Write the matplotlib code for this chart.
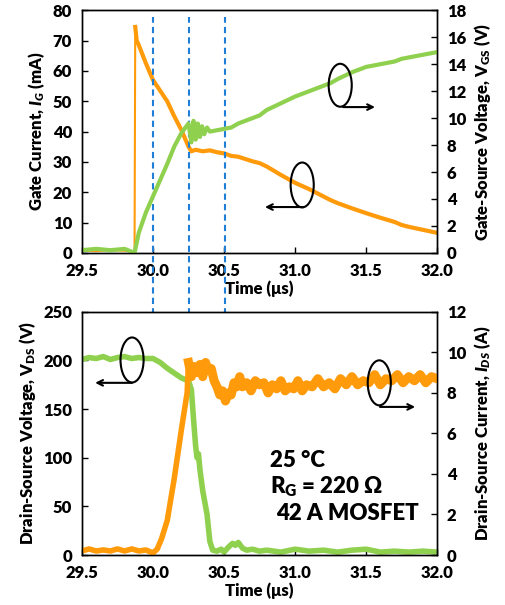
import matplotlib
matplotlib.use("Agg")
import matplotlib.pyplot as plt
from matplotlib.patches import Ellipse

plt.rcParams['font.family'] = ['Lato', 'DejaVu Sans']
plt.rcParams['font.weight'] = 'heavy'
plt.rcParams['axes.labelweight'] = 'heavy'
plt.rcParams['mathtext.fontset'] = 'custom'
plt.rcParams['mathtext.rm'] = 'Lato:heavy'
plt.rcParams['mathtext.it'] = 'Lato:heavy:italic'
plt.rcParams['mathtext.bf'] = 'Lato:heavy'

ORANGE = '#FF9A0A'
GREEN = '#8FD14F'
BLUE = '#1F7FD6'

# gate current (mA), turn-on transient
t_ig = [29.50, 29.60, 29.70, 29.80, 29.86, 29.87, 29.875, 29.885, 29.90, 29.95,
        30.00, 30.05, 30.10, 30.15, 30.20, 30.25, 30.27, 30.30, 30.35, 30.40,
        30.45, 30.50, 30.55, 30.60, 30.70, 30.75, 30.80, 30.90, 31.00, 31.10,
        31.20, 31.25, 31.30, 31.40, 31.50, 31.60, 31.70, 31.75, 31.80, 31.90,
        32.00]
ig = [0.8, 0.6, 0.9, 0.7, 0.5, 0.5, 74.5, 70.0, 68.5, 62.5,
      57.0, 53.5, 50.0, 45.0, 40.5, 35.0, 33.5, 34.0, 33.5, 33.8,
      33.2, 32.8, 32.0, 31.7, 30.2, 29.6, 28.5, 25.7, 23.1, 21.0,
      18.6, 17.4, 16.4, 14.7, 13.1, 11.6, 10.2, 9.2, 8.6, 7.6,
      6.6]

# gate-source voltage (V)
t_vgs = [29.50, 29.60, 29.70, 29.80, 29.87, 29.90, 29.95, 30.00, 30.05, 30.10,
         30.15, 30.20, 30.25, 30.27, 30.285, 30.30, 30.315, 30.33, 30.345, 30.36,
         30.38, 30.40, 30.45, 30.50, 30.55, 30.60, 30.70, 30.75, 30.80, 30.90,
         31.00, 31.10, 31.20, 31.25, 31.30, 31.40, 31.50, 31.60, 31.70, 31.75,
         31.80, 31.90, 32.00]
vgs = [0.2, 0.3, 0.2, 0.3, 0.0, 1.5, 3.0, 4.2, 5.4, 6.6,
       7.9, 8.9, 9.6, 8.2, 9.8, 8.4, 9.6, 8.6, 9.4, 8.8,
       9.3, 9.0, 9.1, 9.2, 9.3, 9.6, 10.0, 10.2, 10.6, 11.1,
       11.6, 12.0, 12.4, 12.6, 12.9, 13.4, 13.8, 14.0, 14.2, 14.4,
       14.5, 14.7, 14.9]

# drain-source voltage (V)
t_vds = [29.50, 29.55, 29.60, 29.65, 29.70, 29.75, 29.80, 29.85, 29.90, 29.95,
         30.00, 30.05, 30.10, 30.15, 30.20, 30.25, 30.27, 30.285, 30.30, 30.31,
         30.32, 30.33, 30.35, 30.38, 30.40, 30.42, 30.45, 30.48, 30.50, 30.53,
         30.56, 30.58, 30.60, 30.63, 30.66, 30.70, 30.75, 30.80, 30.90, 31.00,
         31.10, 31.20, 31.30, 31.40, 31.50, 31.60, 31.70, 31.80, 31.90, 32.00]
vds = [201, 203, 202, 204, 201, 203, 204, 202, 203, 202,
       202, 198, 192, 187, 182, 179, 170, 140, 112, 100,
       104, 88, 66, 42, 14, 5, 4, 6, 3, 8,
       12, 10, 13, 7, 5, 6, 4, 5, 3, 6,
       4, 5, 3, 5, 6, 3, 4, 3, 4, 3]

# drain-source current (A)
t_ids = [29.50, 29.55, 29.60, 29.65, 29.70, 29.75, 29.80, 29.85, 29.90, 29.95,
         30.00, 30.03, 30.06, 30.10, 30.15, 30.20, 30.24, 30.25, 30.27, 30.29,
         30.31, 30.33, 30.35, 30.37, 30.39, 30.41, 30.43, 30.45, 30.47, 30.49,
         30.51, 30.53, 30.55, 30.57, 30.59, 30.61, 30.63, 30.66, 30.69, 30.72,
         30.75, 30.78, 30.81, 30.84, 30.87, 30.90, 30.93, 30.96, 30.99, 31.02,
         31.05, 31.08, 31.12, 31.16, 31.20, 31.24, 31.28, 31.32, 31.36, 31.40,
         31.44, 31.48, 31.52, 31.56, 31.60, 31.64, 31.68, 31.72, 31.76, 31.80,
         31.84, 31.88, 31.92, 31.96, 32.00]
ids = [0.2, 0.3, 0.2, 0.25, 0.2, 0.3, 0.2, 0.3, 0.2, 0.25,
       0.1, 0.3, 0.8, 1.7, 3.8, 6.2, 8.0, 9.5, 8.8, 9.3,
       9.0, 9.4, 8.8, 9.5, 9.1, 9.2, 8.6, 8.3, 7.9, 8.1,
       7.6, 8.0, 7.9, 8.5, 8.3, 8.8, 8.3, 8.5, 8.1, 8.6,
       8.4, 8.5, 8.0, 8.4, 8.2, 8.6, 8.1, 8.3, 8.2, 8.6,
       8.1, 8.4, 8.3, 8.7, 8.3, 8.5, 8.2, 8.7, 8.4, 8.8,
       8.4, 8.6, 8.5, 8.9, 8.4, 8.7, 8.6, 8.9, 8.5, 8.8,
       8.6, 8.9, 8.5, 8.8, 8.7]

# switching instants marked across both panels
markers = [30.0, 30.25, 30.51]

x_ticks = [29.5, 30.0, 30.5, 31.0, 31.5, 32.0]

LABEL_SIZE = 12
TICK_SIZE = 12

fig = plt.figure(figsize=(5.06, 6.05), dpi=100)
ax1 = fig.add_axes([0.162, 0.582, 0.702, 0.401])
ax2 = fig.add_axes([0.162, 0.0826, 0.702, 0.402])


def style(ax, ylim, yticks):
    ax.set_xlim(29.5, 32.0)
    ax.set_ylim(*ylim)
    ax.set_yticks(yticks)
    ax.set_xticks(x_ticks)
    ax.set_xticklabels(['%.1f' % v for v in x_ticks])
    ax.tick_params(direction='in', length=4, width=1.0, labelsize=TICK_SIZE, pad=7)
    for s in ax.spines.values():
        s.set_linewidth(1.0)


# top panel: gate current and gate-source voltage
# thin trace up to the switching edge, thicker noisy trace after it
ax1.plot(t_ig[:7], ig[:7], color=ORANGE, lw=1.5)
ax1.plot(t_ig[6:], ig[6:], color=ORANGE, lw=3.0)
style(ax1, (0, 80), range(0, 81, 10))
ax1.set_ylabel('Gate Current, $\\mathit{I}_\\mathit{G}$ (mA)', fontsize=LABEL_SIZE, labelpad=4)
ax1.set_xlabel('Time (\u03bcs)', fontsize=LABEL_SIZE, labelpad=1)

ax1r = ax1.twinx()
ax1r.plot(t_vgs, vgs, color=GREEN, lw=3.0)
style(ax1r, (0, 18), range(0, 19, 2))
ax1r.set_ylabel('Gate-Source Voltage, V$_\\mathrm{GS}$ (V)', fontsize=LABEL_SIZE, labelpad=4)

# bottom panel: drain-source voltage and current
ax2.plot(t_vds, vds, color=GREEN, lw=4.0)
style(ax2, (0, 250), range(0, 251, 50))
ax2.set_ylabel('Drain-Source Voltage, V$_\\mathrm{DS}$ (V)', fontsize=LABEL_SIZE, labelpad=4)
ax2.set_xlabel('Time (\u03bcs)', fontsize=LABEL_SIZE, labelpad=1)

ax2r = ax2.twinx()
ax2r.plot(t_ids[:18], ids[:18], color=ORANGE, lw=4.0)
ax2r.plot(t_ids[17:], ids[17:], color=ORANGE, lw=6.5)
style(ax2r, (0, 12), range(0, 13, 2))
ax2r.set_ylabel('Drain-Source Current, $\\mathit{I}_\\mathit{DS}$ (A)', fontsize=LABEL_SIZE, labelpad=4)

# dashed guide lines running through both panels
for x in markers:
    ax1.axvline(x, ymin=-1.243, ymax=0.971, color=BLUE, lw=1.5,
                ls=(0, (3, 2)), clip_on=False, zorder=10)


def loop_arrow(ax, cx, cy, w, h, x0, x1, y):
    ax.add_patch(Ellipse((cx, cy), w, h, transform=ax.transAxes,
                         fill=False, ec='black', lw=1.5, zorder=12))
    ax.annotate('', xy=(x1, y), xytext=(x0, y), xycoords='axes fraction',
                arrowprops=dict(arrowstyle='->', color='black', lw=1.5,
                                shrinkA=0, shrinkB=0), zorder=12)


loop_arrow(ax1r, 0.727, 0.691, 0.065, 0.177, 0.735, 0.825, 0.601)
loop_arrow(ax1r, 0.620, 0.280, 0.065, 0.185, 0.623, 0.515, 0.189)
loop_arrow(ax2r, 0.141, 0.802, 0.065, 0.185, 0.141, 0.037, 0.708)
loop_arrow(ax2r, 0.837, 0.708, 0.065, 0.185, 0.839, 0.938, 0.609)

ax2r.text(0.530, 0.362, '25 \u00b0C', transform=ax2r.transAxes,
          fontsize=16, va='baseline')
ax2r.text(0.530, 0.255, 'R$_\\mathrm{G}$ = 220 \u03a9', transform=ax2r.transAxes,
          fontsize=16, va='baseline')
ax2r.text(0.545, 0.144, '42 A MOSFET', transform=ax2r.transAxes,
          fontsize=16, va='baseline')

fig.savefig('out.png', dpi=100)
